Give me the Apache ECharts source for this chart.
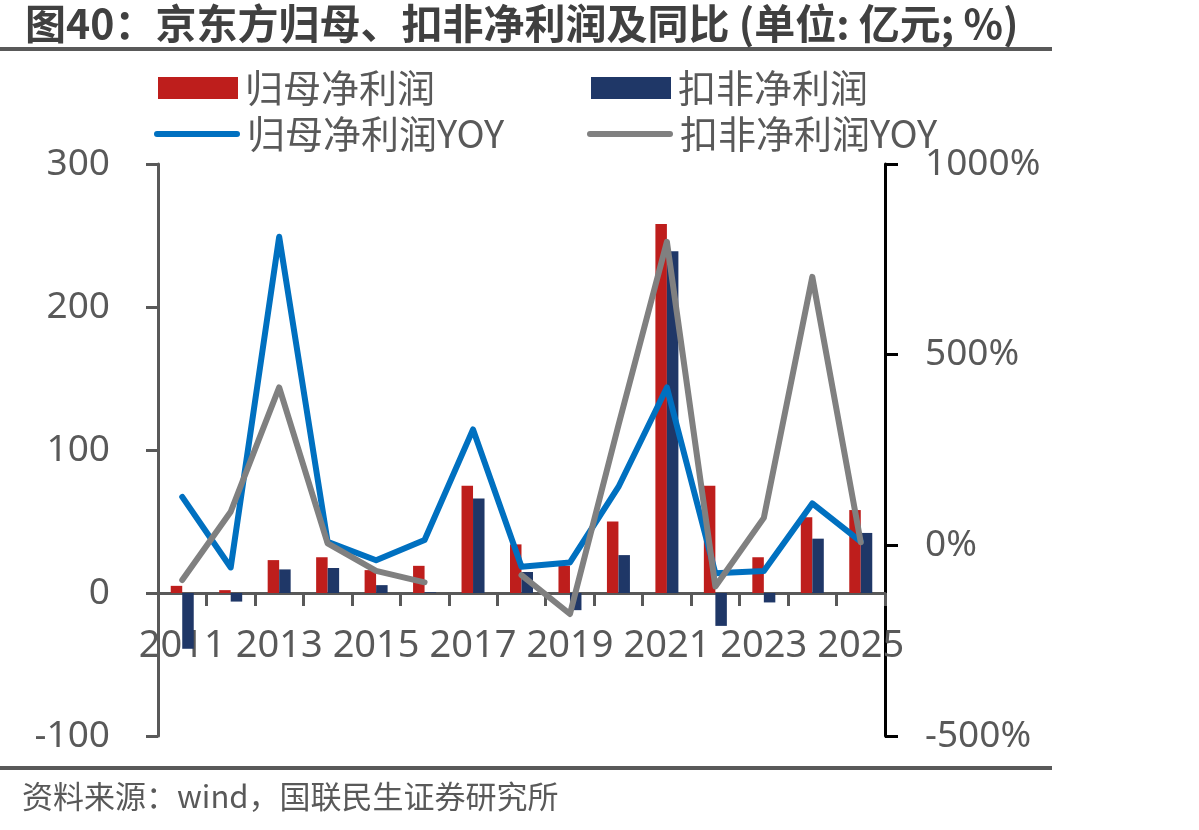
<!DOCTYPE html>
<html>
<head>
<meta charset="utf-8">
<script src="https://cdn.jsdelivr.net/npm/echarts@6/dist/echarts.min.js"></script>
<style>
html,body{margin:0;padding:0;background:#fff;}
#chart{width:1199px;height:830px;}
</style>
</head>
<body>
<div id="chart"></div>
<script>
// ---- data ----
const years = ['2011','2012','2013','2014','2015','2016','2017','2018','2019','2020','2021','2022','2023','2024','2025'];
const netProfit = [5, 2, 23, 25, 16, 19, 75, 34, 19, 50, 258, 75, 25, 53, 58];            // 归母净利润 (亿元)
const deductedProfit = [-39, -6, 16.5, 17.5, 5.5, 0.5, 66, 14.7, -12, 26.5, 239, -23, -6.6, 38, 42]; // 扣非净利润 (亿元)
const netProfitYoy = [127, -58, 809, 9, -39, 14, 304, -56, -45, 153, 414, -73, -67, 110, 10];        // %
const deductedYoy = [-91, 88, 414, 5, -67, -97, null, -78, -180, 315, 796, -108, 72, 704, 8];       // %
const leftTicks = {min: -100, max: 300, interval: 100};
const rightTicks = {min: -500, max: 1000, interval: 500};

const names = ['归母净利润', '扣非净利润', '归母净利润YOY', '扣非净利润YOY'];
const colors = ['#BE1E1C', '#1F3767', '#0070C0', '#808080'];
const FONT = '"Noto Sans", "Noto Sans CJK SC", sans-serif';
const CJK = '"Noto Sans CJK SC", sans-serif';
const txt = '#595959';

const capsule = 'path://M3,0 L83,0 A3,3 0 0 1 83,6 L3,6 A3,3 0 0 1 3,0 Z';
function legendFor(name, left, top, isLine) {
  return {
    data: [name], left: left, top: top, orient: 'horizontal',
    itemWidth: isLine ? 86 : 80, itemHeight: isLine ? 6 : 22,
    icon: isLine ? capsule : 'rect',
    padding: 0, itemGap: 0,
    textStyle: {fontSize: 38, color: txt, fontFamily: CJK, lineHeight: 40, padding: [0,0,0,2]},
    selectedMode: false
  };
}

const chart = echarts.init(document.getElementById('chart'));
chart.setOption({
  animation: false,
  backgroundColor: '#fff',
  color: colors,
  title: {
    text: '图40：京东方归母、扣非净利润及同比 (单位: 亿元; %)',
    left: 20, top: -2,
    textStyle: {fontSize: 41, fontWeight: 'bold', color: '#404040', fontFamily: CJK}
  },
  legend: [
    legendFor(names[0], 158, 68, false),
    legendFor(names[1], 591, 68, false),
    legendFor(names[2], 154, 114, true),
    legendFor(names[3], 587, 114, true)
  ],
  grid: {left: 158, right: 314, top: 164, bottom: 94},
  xAxis: {
    type: 'category', data: years,
    offset: -143,
    axisLine: {onZero: false, lineStyle: {color: '#595959', width: 3}},
    axisTick: {show: true, interval: 0, alignWithLabel: false, length: 13, lineStyle: {color: '#595959', width: 3}},
    axisLabel: {interval: 1, fontSize: 38, color: txt, fontFamily: FONT, margin: 34}
  },
  yAxis: [
    {
      type: 'value', min: leftTicks.min, max: leftTicks.max, interval: leftTicks.interval,
      splitLine: {show: false},
      axisLine: {show: true, onZero: false, lineStyle: {color: '#595959', width: 3}},
      axisTick: {show: true, length: 12, lineStyle: {color: '#595959', width: 3}},
      axisLabel: {fontSize: 37, color: txt, fontFamily: FONT, margin: 48}
    },
    {
      type: 'value', min: rightTicks.min, max: rightTicks.max, interval: rightTicks.interval,
      position: 'right',
      splitLine: {show: false},
      axisLine: {show: true, onZero: false, lineStyle: {color: '#000', width: 3}},
      axisTick: {show: true, length: 13, lineStyle: {color: '#000', width: 3}},
      axisLabel: {fontSize: 37, color: txt, fontFamily: FONT, margin: 40, formatter: function (v) { return v + '%'; }}
    }
  ],
  series: [
    {name: names[0], type: 'bar', data: netProfit, barWidth: 11.5, barGap: '0%', itemStyle: {color: colors[0]}},
    {name: names[1], type: 'bar', data: deductedProfit, barWidth: 11.5, barGap: '0%', itemStyle: {color: colors[1]}},
    {name: names[2], type: 'line', yAxisIndex: 1, data: netProfitYoy, symbol: 'none', connectNulls: false,
     lineStyle: {color: colors[2], width: 6, cap: 'round', join: 'round'}, itemStyle: {color: colors[2]}},
    {name: names[3], type: 'line', yAxisIndex: 1, data: deductedYoy, symbol: 'none', connectNulls: false,
     lineStyle: {color: colors[3], width: 6, cap: 'round', join: 'round'}, itemStyle: {color: colors[3]}}
  ],
  graphic: [
    {type: 'rect', shape: {x: 0, y: 47, width: 1052, height: 4}, style: {fill: '#595959'}},
    {type: 'rect', shape: {x: 0, y: 766, width: 1052, height: 4}, style: {fill: '#595959'}},
    {type: 'text', left: 22, top: 781, style: {text: '资料来源：wind，国联民生证券研究所', fontSize: 31, fill: txt, fontFamily: CJK}}
  ]
});
</script>
</body>
</html>
